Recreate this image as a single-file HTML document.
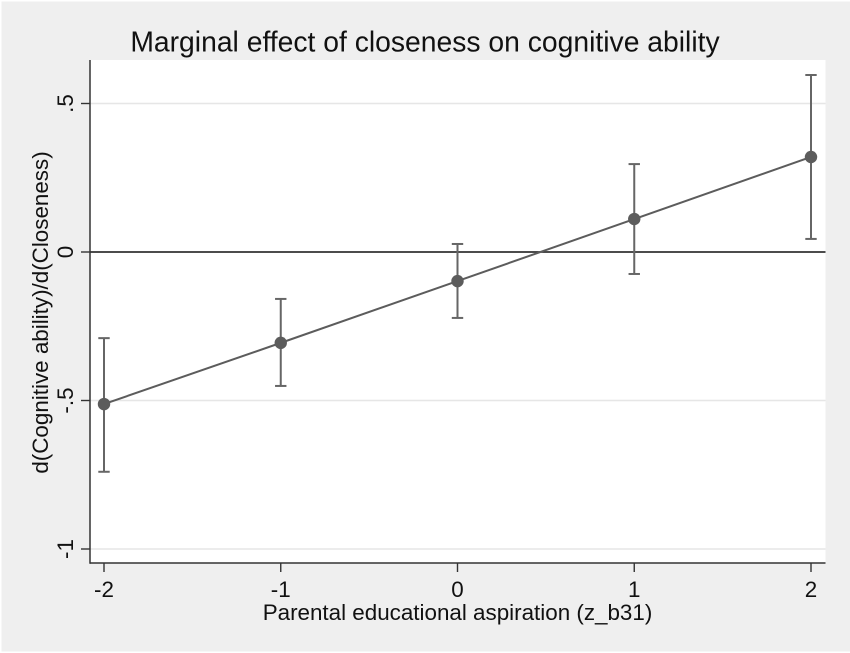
<!DOCTYPE html>
<html>
<head>
<meta charset="utf-8">
<style>
html,body{margin:0;padding:0;background:#fff;}
svg{display:block;}
text{font-family:"Liberation Sans",sans-serif;fill:#111;}
</style>
</head>
<body>
<svg id="chart" xmlns="http://www.w3.org/2000/svg" width="850" height="653" viewBox="0 0 850 653">
<rect x="1.5" y="1.5" width="848.5" height="650" fill="#efefef"/>
<rect x="90" y="60" width="735.5" height="503" fill="#ffffff"/>
<text x="425" y="51.5" font-size="28.3" text-anchor="middle">Marginal effect of closeness on cognitive ability</text>
<text x="457.5" y="620" font-size="22.4" text-anchor="middle">Parental educational aspiration (z_b31)</text>
<text transform="translate(48,312.5) rotate(-90)" font-size="22.4" text-anchor="middle">d(Cognitive ability)/d(Closeness)</text>
<g id="grid"></g>
<g id="refline"></g>
<g id="axes"></g>
<g id="series"></g>
</svg>
<script>
const xCategories = [-2, -1, 0, 1, 2];
const xTickLabels = ["-2", "-1", "0", "1", "2"];
const yTicks = [0.5, 0, -0.5, -1];
const yTickLabels = [".5", "0", "-.5", "-1"];
const margins = [-0.512, -0.306, -0.098, 0.111, 0.320];
const ciUpper = [-0.290, -0.158, 0.027, 0.296, 0.596];
const ciLower = [-0.740, -0.451, -0.222, -0.074, 0.044];

const NS = "http://www.w3.org/2000/svg";
function xScale(v) { return 457.5 + v * 176.75; }
function yScale(v) { return 252 - v * 297; }
function make(tag, attrs, parent) {
  const el = document.createElementNS(NS, tag);
  for (const k in attrs) el.setAttribute(k, attrs[k]);
  parent.appendChild(el);
  return el;
}
const plotL = 90, plotR = 825.5, plotB = 563, plotT = 60;
const grid = document.getElementById("grid");
const refline = document.getElementById("refline");
const axes = document.getElementById("axes");
const series = document.getElementById("series");

yTicks.forEach(function (t, i) {
  const y = yScale(t);
  if (t !== 0) {
    const g = make("line", {x1: plotL, x2: plotR, y1: y, y2: y, stroke: "#e6e6e6", "stroke-width": 1.6}, grid);
    
    
  }
  const tick = make("line", {x1: plotL - 9, x2: plotL, y1: y, y2: y, stroke: "#333", "stroke-width": 1.4}, axes);
  
  
  const lab = make("text", {transform: "translate(73," + y + ") rotate(-90)", "font-size": 22.4, "text-anchor": "middle"}, axes);
  lab.textContent = yTickLabels[i];
  
  
});

const zero = make("line", {x1: plotL, x2: plotR, y1: yScale(0), y2: yScale(0), stroke: "#333", "stroke-width": 1.7}, refline);



const yAxis = make("line", {x1: plotL, x2: plotL, y1: plotT, y2: plotB + 0.7, stroke: "#333", "stroke-width": 1.5}, axes);


const xAxis = make("line", {x1: plotL, x2: plotR, y1: plotB, y2: plotB, stroke: "#333", "stroke-width": 1.5}, axes);



xCategories.forEach(function (c, i) {
  const x = xScale(c);
  const tick = make("line", {x1: x, x2: x, y1: plotB, y2: plotB + 9, stroke: "#333", "stroke-width": 1.4}, axes);
  
  
  const lab = make("text", {x: x, y: 597, "font-size": 22.4, "text-anchor": "middle"}, axes);
  lab.textContent = xTickLabels[i];
  
  
});

const pts = xCategories.map(function (c, i) { return xScale(c) + "," + yScale(margins[i]); }).join(" ");
const connector = make("polyline", {points: pts, fill: "none", stroke: "#5c5c5c", "stroke-width": 2}, series);



xCategories.forEach(function (c, i) {
  const x = xScale(c), hi = yScale(ciUpper[i]), lo = yScale(ciLower[i]);
  const bar = make("line", {x1: x, x2: x, y1: hi, y2: lo, stroke: "#666", "stroke-width": 2}, series);
  
  
  const capHi = make("line", {x1: x - 5.7, x2: x + 5.7, y1: hi, y2: hi, stroke: "#666", "stroke-width": 2}, series);
  
  
  const capLo = make("line", {x1: x - 5.7, x2: x + 5.7, y1: lo, y2: lo, stroke: "#666", "stroke-width": 2}, series);
  
  
  const dot = make("circle", {cx: x, cy: yScale(margins[i]), r: 6.2, fill: "#5c5c5c"}, series);
  
  
});
</script>
</body>
</html>
